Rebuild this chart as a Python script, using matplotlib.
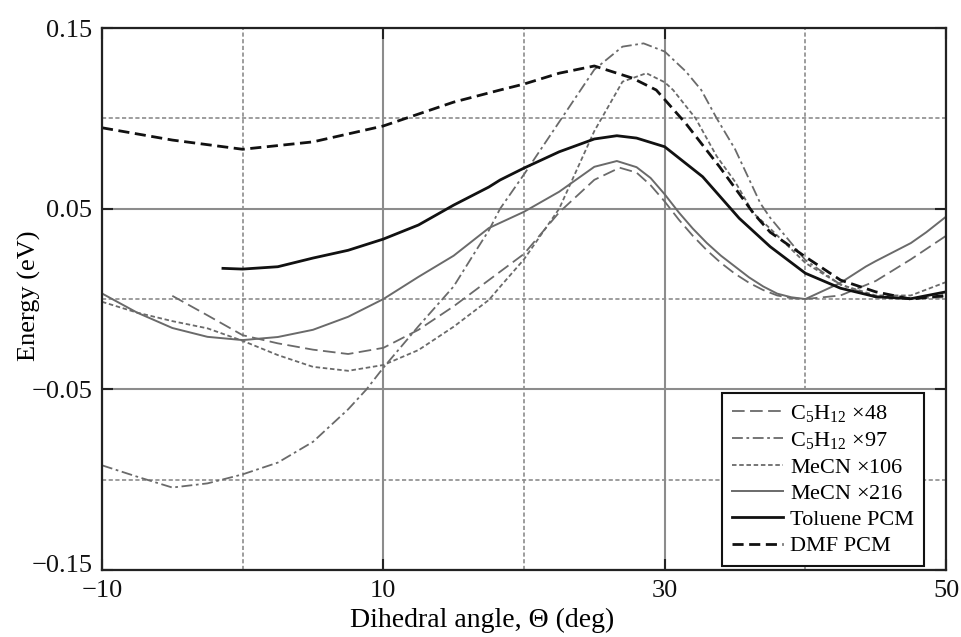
import matplotlib
matplotlib.use("Agg")
import matplotlib.pyplot as plt
import matplotlib.transforms as mtransforms

plt.rcParams['font.family'] = ['Liberation Serif', 'DejaVu Serif']
plt.rcParams['mathtext.fontset'] = 'custom'
plt.rcParams['mathtext.rm'] = 'Liberation Serif'

# C5H12 x48 (long dash)
x_c48 = [-5, -2.5, 0, 2.5, 5, 7.5, 10, 12.5, 15, 17.5, 20, 22.5, 25, 26.8, 28, 29, 30, 31,
         32, 33, 34, 35, 36, 37, 38, 39, 40, 42.5, 45, 47.5, 50]
y_c48 = [0.0018, -0.009, -0.020, -0.0245, -0.028, -0.0304, -0.027, -0.017, -0.004, 0.0105,
         0.025, 0.048, 0.066, 0.0727, 0.070, 0.063, 0.054, 0.044, 0.035, 0.027, 0.020,
         0.014, 0.009, 0.005, 0.002, 0.0005, 0.0, 0.002, 0.010, 0.022, 0.035]

# C5H12 x97 (dash-dot)
x_c97 = [-10, -7.5, -5, -2.5, 0, 2.5, 5, 7.5, 8.8, 10, 12.5, 15, 16.6, 17.5, 18.3, 20,
         22.5, 25, 27, 28.5, 30, 31.5, 32.6, 33.7, 35, 36.8, 37.5, 40, 42.5, 45, 47.5, 50]
y_c97 = [-0.092, -0.0983, -0.1043, -0.102, -0.097, -0.0905, -0.079, -0.061, -0.050, -0.038,
         -0.015, 0.007, 0.027, 0.038, 0.050, 0.069, 0.098, 0.127, 0.1397, 0.1415, 0.137,
         0.126, 0.1157, 0.100, 0.083, 0.053, 0.045, 0.0216, 0.008, 0.001, 0.0005, 0.001]

# MeCN x106 (dotted)
x_m106 = [-10, -7.5, -5, -2.5, 0, 2.5, 5, 7.5, 10, 12.5, 15, 17.5, 18.3, 20, 22.5, 25, 27,
          28.7, 30, 30.6, 32.2, 33.7, 35, 36.3, 37.5, 40, 42.5, 45, 47.5, 50]
y_m106 = [-0.0015, -0.0075, -0.0122, -0.0162, -0.0231, -0.031, -0.0375, -0.0397, -0.0365,
          -0.0282, -0.0153, -0.0005, 0.0068, 0.022, 0.050, 0.093, 0.1203, 0.125, 0.120,
          0.1157, 0.100, 0.079, 0.065, 0.0476, 0.039, 0.020, 0.008, 0.002, 0.002, 0.0094]

# MeCN x216 (gray solid)
x_m216 = [-10, -7.5, -5, -2.5, 0, 2.5, 5, 7.5, 10, 12.5, 15, 17.5, 20, 22.5, 25, 26.6, 28,
          29, 30, 31, 32, 33, 34, 35, 36, 37, 38, 39, 40, 42.5, 44.3, 45, 47.5, 48.6, 50]
y_m216 = [0.0031, -0.0075, -0.016, -0.0209, -0.0227, -0.021, -0.017, -0.0098, 0.0, 0.0123,
          0.024, 0.0393, 0.0483, 0.0594, 0.0732, 0.0764, 0.073, 0.067, 0.058, 0.048, 0.039,
          0.031, 0.024, 0.018, 0.012, 0.007, 0.003, 0.001, 0.0, 0.009, 0.018, 0.021,
          0.031, 0.037, 0.0456]

# Toluene PCM (black solid)
x_tol = [-1.4, 0, 2.5, 5, 7.5, 10, 12.5, 15, 17.5, 18.3, 20, 22.5, 25, 26.6, 28, 30, 32.7,
         35.3, 37.5, 40, 42.5, 45, 47.5, 50]
y_tol = [0.017, 0.0166, 0.0179, 0.0227, 0.027, 0.0332, 0.041, 0.052, 0.062, 0.0659, 0.0725,
         0.0815, 0.0886, 0.0904, 0.0891, 0.0843, 0.0677, 0.0447, 0.029, 0.0143, 0.006,
         0.0013, 0.0002, 0.004]

# DMF PCM (black dashed)
x_dmf = [-10, -5, 0, 5, 10, 15, 18.3, 20, 22.5, 25, 27.7, 29.4, 31.5, 33.9, 36.3, 37.5,
         40, 42.5, 45, 47.5, 50]
y_dmf = [0.0948, 0.088, 0.0829, 0.087, 0.0958, 0.109, 0.1157, 0.119, 0.125, 0.129, 0.1223,
         0.1157, 0.0972, 0.0732, 0.0476, 0.037, 0.0234, 0.0105, 0.004, 0.0, 0.002]

x_major = [-10, 10, 30, 50]
x_minor = [0, 20, 40]
y_major = [-0.15, -0.05, 0.05, 0.15]
y_minor = [-0.1, 0.0, 0.1]
x_labels = ['\u221210', '10', '30', '50']
y_labels = ['\u22120.15', '\u22120.05', '0.05', '0.15']

fig = plt.figure(figsize=(9.62, 6.37), dpi=100)
ax = fig.add_axes([0.106, 0.105, 0.8774, 0.851])

gray = '#6a6a6a'
ax.plot(x_c48, y_c48, color=gray, lw=1.3, dashes=(7, 3), label=r'C$_5$H$_{12}$ $\times$48')
ax.plot(x_c97, y_c97, color=gray, lw=1.3, dashes=(6, 2, 1.5, 2), label=r'C$_5$H$_{12}$ $\times$97')
ax.plot(x_m106, y_m106, color=gray, lw=1.3, dashes=(2.5, 1.5), label='MeCN $\\times$106')
ax.plot(x_m216, y_m216, color=gray, lw=1.4, label='MeCN $\\times$216')
ax.plot(x_tol, y_tol, color='#111111', lw=2.0, label='Toluene PCM')
ax.plot(x_dmf, y_dmf, color='#111111', lw=2.0, dashes=(4, 2), label='DMF PCM')

ax.set_xlim(-10, 50)
ax.set_ylim(-0.15, 0.15)
ax.set_xticks(x_major)
ax.set_yticks(y_major)
ax.set_xticks(x_minor, minor=True)
ax.set_yticks(y_minor, minor=True)
ax.set_xticklabels(x_labels)
ax.set_yticklabels(y_labels)

ax.grid(True, which='major', color='#8c8c8c', lw=1.5, ls='-')
ax.grid(True, which='minor', color='#8c8c8c', lw=1.2, ls=(0, (2.5, 1.5)))
ax.set_axisbelow(True)

ax.tick_params(which='major', direction='in', length=8, width=1.5, colors='#222222',
               top=True, right=True, labelsize=19, pad=7, labelcolor='#111111')
ax.tick_params(which='minor', length=0)
for s in ax.spines.values():
    s.set_linewidth(1.6)
    s.set_color('#222222')

# nudge the lowest y label up a little so it clears the -10 label
lab = ax.get_yticklabels()[0]
lab.set_transform(lab.get_transform() + mtransforms.ScaledTranslation(0, 5 / 72, fig.dpi_scale_trans))

fig.text(0.501, 0.016, 'Dihedral angle, \u0398 (deg)', ha='center', va='baseline', fontsize=20)
fig.text(0.031, 0.535, 'Energy (eV)', ha='center', va='center', rotation=90, fontsize=19)

leg = ax.legend(loc='lower right', bbox_to_anchor=(0.974, 0.007), borderaxespad=0,
                fontsize=16, handlelength=2.3, handletextpad=0.3, labelspacing=0.25,
                fancybox=False, framealpha=1, edgecolor='#111111', borderpad=0.45)
leg.get_frame().set_linewidth(1.5)

fig.savefig('out.png', dpi=100)
